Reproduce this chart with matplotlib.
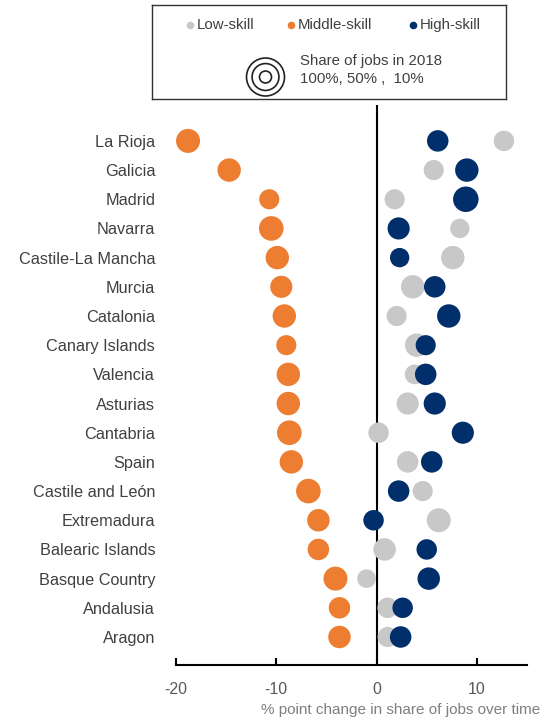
import matplotlib
matplotlib.use("Agg")
import matplotlib.pyplot as plt
from matplotlib.patches import Circle
import numpy as np

plt.rcParams['font.family'] = ['Liberation Sans', 'DejaVu Sans']

regions = ["La Rioja", "Galicia", "Madrid", "Navarra", "Castile-La Mancha", "Murcia",
           "Catalonia", "Canary Islands", "Valencia", "Asturias", "Cantabria", "Spain",
           "Castile and León", "Extremadura", "Balearic Islands", "Basque Country",
           "Andalusia", "Aragon"]

low_change = [12.7, 5.7, 1.8, 8.3, 7.6, 3.6, 2.0, 4.0, 3.8, 3.1, 0.2, 3.1, 4.6, 6.2, 0.8, -1.0, 1.1, 1.1]
mid_change = [-18.8, -14.7, -10.7, -10.5, -9.9, -9.5, -9.2, -9.0, -8.8, -8.8, -8.7, -8.5, -6.8, -5.8, -5.8, -4.1, -3.7, -3.7]
high_change = [6.1, 9.0, 8.9, 2.2, 2.3, 5.8, 7.2, 4.9, 4.9, 5.8, 8.6, 5.5, 2.2, -0.3, 5.0, 5.2, 2.6, 2.4]

low_share = [29, 28, 28, 26, 38, 38, 28, 38, 27, 34, 29, 32, 28, 40, 35, 24, 29, 28]
mid_share = [40, 38, 28, 42, 38, 34, 38, 28, 38, 38, 42, 38, 42, 35, 32, 40, 32, 35]
high_share = [32, 38, 45, 34, 26, 32, 38, 28, 32, 34, 34, 32, 32, 29, 29, 35, 29, 32]

xticks = [-20, -10, 0, 10]
xlabel = "% point change in share of jobs over time"
legend_labels = ["Low-skill", "Middle-skill", "High-skill"]
size_text = "Share of jobs in 2018\n100%, 50% ,  10%"
size_ref = [100, 50, 10]

c_low = "#C8C8C8"
c_mid = "#ED7D31"
c_high = "#002F6C"

W, H = 550, 720
fig = plt.figure(figsize=(W / 100, H / 100), dpi=100)
ax = fig.add_axes([176 / W, 55 / H, (527 - 176) / W, (665 - 105) / H])

n = len(regions)
y = np.arange(n)[::-1]
k = (2 * 1.9 * 0.72) ** 2  # share (%) -> marker area (pt^2)

ax.axvline(0, color="black", lw=1.5, zorder=1)
ax.scatter(low_change, y, s=np.array(low_share) * k, color=c_low, lw=0, zorder=2, clip_on=False)
ax.scatter(mid_change, y, s=np.array(mid_share) * k, color=c_mid, lw=0, zorder=3, clip_on=False)
ax.scatter(high_change, y, s=np.array(high_share) * k, color=c_high, lw=0, zorder=4, clip_on=False)

ax.set_xlim(-20, 15)
ax.set_ylim(-0.96, 18.23)
ax.set_yticks(y)
ax.set_yticklabels(regions, fontsize=11.7, color="#404040")
ax.tick_params(axis="y", length=0, pad=15)
ax.set_xticks(xticks)
ax.set_xticklabels([str(t) for t in xticks], fontsize=11.5, color="#595959")
ax.tick_params(axis="x", direction="in", length=5, width=1.5, pad=12, color="black")
for s in ["top", "right", "left"]:
    ax.spines[s].set_visible(False)
ax.spines["bottom"].set_linewidth(1.5)
ax.spines["bottom"].set_color("black")
fig.text(540 / W, 1 - 710 / H, xlabel, ha="right", va="center", fontsize=11, color="#7F7F7F")

# legend box in pixel coordinates
lx0, ly0, lx1, ly1 = 152, 5, 506, 99
lax = fig.add_axes([lx0 / W, 1 - ly1 / H, (lx1 - lx0) / W, (ly1 - ly0) / H])
lax.set_xlim(lx0, lx1)
lax.set_ylim(ly1, ly0)
lax.set_xticks([])
lax.set_yticks([])
for s in lax.spines.values():
    s.set_linewidth(1.0)
    s.set_color("#333333")
dot_x = [190, 291, 413]
for dx, lab, c in zip(dot_x, legend_labels, [c_low, c_mid, c_high]):
    lax.scatter([dx], [25], s=30, color=c, lw=0)
    lax.text(dx + 7, 25, lab, ha="left", va="center", fontsize=10.8, color="#404040")
cx, cy = 265.5, 77
for sr in size_ref:
    lax.add_patch(Circle((cx, cy), 1.9 * np.sqrt(sr), fill=False, ec="#222222", lw=1.2))
lax.text(300, 70, size_text, ha="left", va="center", fontsize=10.8, color="#404040", linespacing=1.35)

fig.savefig("out.png", dpi=100)
